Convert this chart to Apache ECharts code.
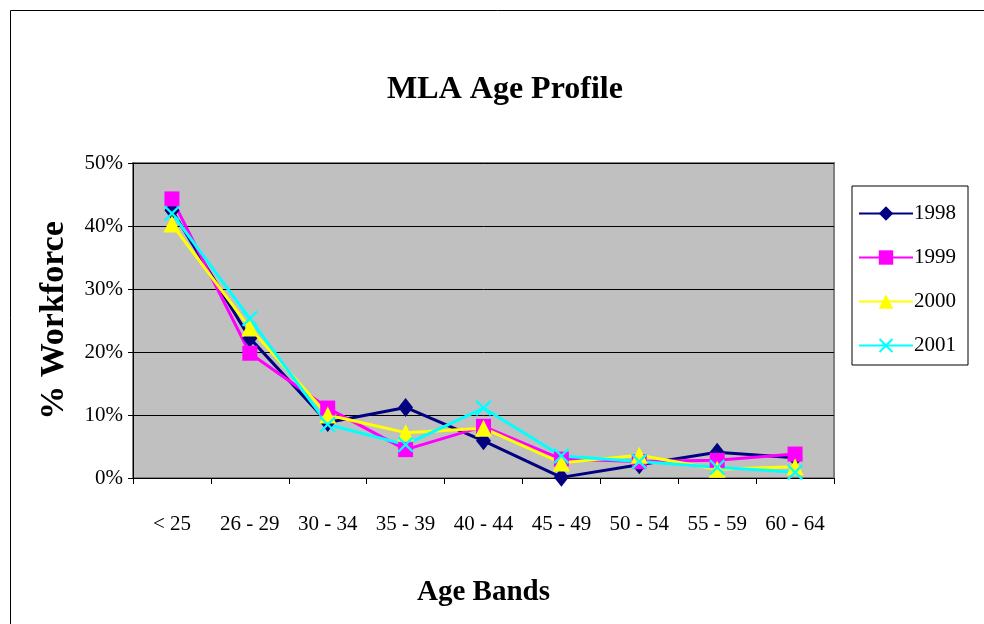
<!DOCTYPE html>
<html>
<head>
<meta charset="utf-8">
<script src="https://cdn.jsdelivr.net/npm/echarts@6/dist/echarts.min.js"></script>
<style>html,body{margin:0;padding:0;background:#fff}#c{width:984px;height:624px}</style>
</head>
<body>
<div id="c"></div>
<script>
const categories = ['< 25', '26 - 29', '30 - 34', '35 - 39', '40 - 44', '45 - 49', '50 - 54', '55 - 59', '60 - 64'];
const s1998 = [42.5, 22.2, 8.8, 11.2, 5.9, 0.1, 2.1, 4.1, 3.2];
const s1999 = [44.3, 19.8, 11.1, 4.5, 8.2, 3.0, 2.6, 2.8, 3.8];
const s2000 = [40.3, 23.8, 10.0, 7.2, 7.9, 2.4, 3.6, 1.4, 1.8];
const s2001 = [42.0, 25.3, 8.5, 5.3, 11.1, 3.5, 2.6, 1.7, 0.9];
const yTicks = [0, 10, 20, 30, 40, 50];

const serif = '"Liberation Serif", "DejaVu Serif", serif';
const xPath = 'path://M0,1L1,0L5,4L9,0L10,1L6,5L10,9L9,10L5,6L1,10L0,9L4,5Z';

function mk(name, data, color, symbol, size) {
  return {
    name, type: 'line', data, symbol, symbolSize: size,
    itemStyle: { color }, lineStyle: { color, width: 3 },
    emphasis: { disabled: true }, animation: false
  };
}

const chart = echarts.init(document.getElementById('c'));
chart.setOption({
  backgroundColor: '#ffffff',
  animation: false,
  title: {
    text: 'MLA Age Profile', left: 500, top: 69, textAlign: 'center',
    textStyle: { fontFamily: serif, fontWeight: 'bold', fontSize: 32, color: '#000' }
  },
  graphic: [
    { type: 'rect', shape: { x: 10.5, y: 10.5, width: 1000, height: 1000 }, style: { fill: 'none', stroke: '#000', lineWidth: 1 }, z: -10 }
  ],
  grid: { left: 133, right: 150, top: 163, bottom: 146, show: true, backgroundColor: '#C0C0C0', borderColor: '#808080', borderWidth: 2 },
  legend: {
    orient: 'vertical', left: 852, top: 186, width: 118,
    backgroundColor: '#fff', borderColor: '#000', borderWidth: 1,
    padding: [17, 12, 9, 6], itemGap: 23, itemWidth: 54, itemHeight: 18,
    textStyle: { fontFamily: serif, fontSize: 21, color: '#000', padding: [4, 0, 0, -4] },
    data: ['1998', '1999', '2000', '2001']
  },
  xAxis: {
    type: 'category', data: categories,
    name: 'Age Bands', nameLocation: 'middle', nameGap: 100,
    nameTextStyle: { fontFamily: serif, fontWeight: 'bold', fontSize: 29, color: '#000' },
    axisLine: { lineStyle: { color: '#000', width: 1 } },
    axisTick: { show: true, length: 6, lineStyle: { color: '#000' } },
    axisLabel: { fontFamily: serif, fontSize: 21, color: '#000', margin: 36 }
  },
  yAxis: {
    type: 'value', min: 0, max: 50, interval: 10,
    name: '% Workforce', nameLocation: 'middle', nameGap: 62, nameRotate: 90,
    nameTextStyle: { fontFamily: serif, fontWeight: 'bold', fontSize: 34, color: '#000' },
    axisLine: { show: true, lineStyle: { color: '#000', width: 1 } },
    axisTick: { show: true, length: 5, lineStyle: { color: '#000' } },
    splitLine: { show: true, lineStyle: { color: '#000', width: 1 } },
    axisLabel: { fontFamily: serif, fontSize: 21, color: '#000', margin: 10,
      formatter: v => yTicks.includes(v) ? v + '%' : '' }
  },
  series: [
    mk('1998', s1998, '#000080', 'diamond', [15, 19]),
    mk('1999', s1999, '#FF00FF', 'rect', 15),
    mk('2000', s2000, '#FFFF00', 'triangle', 17),
    mk('2001', s2001, '#00FFFF', xPath, 16)
  ]
});
</script>
</body>
</html>
